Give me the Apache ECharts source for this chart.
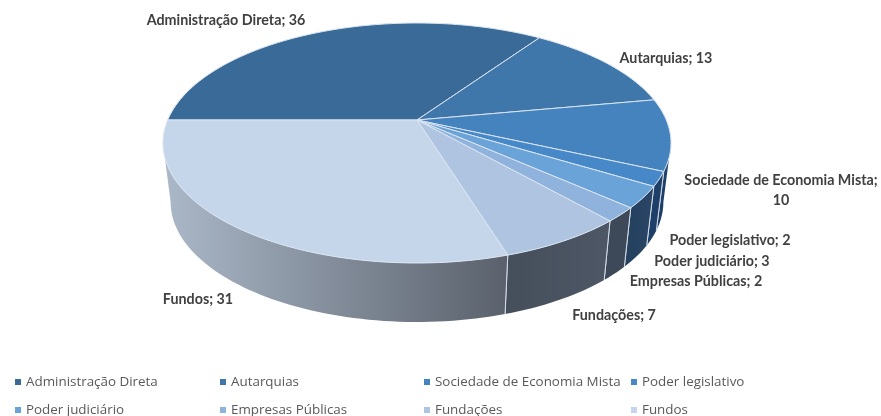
<!DOCTYPE html>
<html>
<head>
<meta charset="utf-8">
<style>
  html, body { margin: 0; padding: 0; background: #fff; }
  #chart { width: 881px; height: 416px; }
</style>
<script src="https://cdn.jsdelivr.net/npm/echarts@6/dist/echarts.min.js"></script>
</head>
<body>
<div id="chart"></div>
<script>
const categories = ['Administração Direta', 'Autarquias', 'Sociedade de Economia Mista', 'Poder legislativo',
  'Poder judiciário', 'Empresas Públicas', 'Fundações', 'Fundos']
const values = [36, 13, 10, 2, 3, 2, 7, 31]

const topColors = ['#3a6b98', '#4077ab', '#4483bd', '#4688c8', '#6aa3d8', '#8fb3dc', '#aec4e1', '#c5d6ea']
const sideColors = [null, null, ['#1c3b64', '#1f4470'], ['#1e4068', '#1e4068'],
  ['#24405f', '#2a4565'], ['#3d4959', '#3d4959'], ['#454f5c', '#4d5765'], ['#abb8c8', '#5a616c']]

// centre of each label
const labelPos = [[226, 20], [666, 58], [781, 190], [730, 240], [712, 261], [696, 281], [614, 315], [198, 299]]
const legendLeft = [15, 220, 424, 631]
const legendTop = [375, 403]

// the perspective of the disc
const cx = 417
const cy = 120
const rx = 249.3
const ry = 115.6
const persp = 0.1916
const depth = 59
const bottomScale = 0.97

// only this part of the rim faces the viewer
const frontStart = 0.5 + Math.asin(persp) / (Math.PI * 2)
const frontEnd = 1 - Math.asin(persp) / (Math.PI * 2)

const total = values.reduce((a, b) => a + b, 0)

function topPoint(frac) {
  const t = frac * Math.PI * 2
  const u = -Math.cos(t)
  const v = -Math.sin(t)
  const w = 1 - persp * v
  return [cx + rx * u / w, cy + ry * v / w]
}

function bottomPoint(frac) {
  const p = topPoint(frac)
  return [cx + (p[0] - cx) * bottomScale, p[1] + depth]
}

function arc(start, end, fn) {
  const pts = []
  const n = Math.max(4, Math.ceil((end - start) * 240))
  for (let i = 0; i <= n; i++) {
    pts.push(fn(start + (end - start) * i / n))
  }
  return pts
}

function sideItem(start, end, i) {
  const s = Math.max(start, frontStart)
  const e = Math.min(end, frontEnd)
  if (e <= s) {
    return null
  }
  const top = arc(s, e, topPoint)
  const bottom = arc(s, e, bottomPoint).reverse()
  const xs = top.map(p => p[0]).concat(bottom.map(p => p[0]))
  const fill = new echarts.graphic.LinearGradient(Math.min(...xs), 0, Math.max(...xs), 0, [
    { offset: 0, color: sideColors[i][0] },
    { offset: 1, color: sideColors[i][1] }
  ], true)
  const edge = f => ({
    type: 'line',
    shape: { x1: topPoint(f)[0], y1: topPoint(f)[1], x2: bottomPoint(f)[0], y2: bottomPoint(f)[1] },
    style: { stroke: '#d5dde8', lineWidth: 1 }
  })
  const children = [{ type: 'polygon', shape: { points: top.concat(bottom) }, style: { fill: fill } }]
  if (start >= frontStart) {
    children.push(edge(start))
  }
  if (end <= frontEnd) {
    children.push(edge(end))
  }
  return { type: 'group', children: children }
}

function topItem(start, end, i) {
  const text = i === 2
    ? categories[i] + ';\n' + values[i]
    : categories[i] + '; ' + values[i]
  return {
    type: 'group',
    children: [
      {
        type: 'polygon',
        shape: { points: [[cx, cy]].concat(arc(start, end, topPoint)) },
        style: { fill: topColors[i], stroke: '#dbe5f1', lineWidth: 1, lineJoin: 'round' }
      },
      {
        type: 'text',
        z2: 10,
        style: {
          text: text,
          x: labelPos[i][0],
          y: labelPos[i][1],
          align: 'center',
          verticalAlign: 'middle',
          fill: '#404040',
          font: 'bold 14.3px Lato',
          lineHeight: 20
        }
      }
    ]
  }
}

// cumulative share where each slice starts and ends
let acc = 0
const ranges = values.map(v => {
  const r = [acc / total, (acc + v) / total]
  acc += v
  return r
})

const series = [{
  name: 'lados',
  type: 'custom',
  coordinateSystem: 'none',
  silent: true,
  z: 1,
  data: ranges.map((r, i) => [r[0], r[1], i]),
  renderItem(params, api) {
    return sideItem(api.value(0), api.value(1), api.value(2))
  }
}]
categories.forEach((name, i) => {
  series.push({
    name: name,
    type: 'custom',
    coordinateSystem: 'none',
    z: 2,
    itemStyle: { color: topColors[i] },
    data: [[ranges[i][0], ranges[i][1], i]],
    renderItem(params, api) {
      return topItem(api.value(0), api.value(1), api.value(2))
    }
  })
})

// one legend per entry, the columns of the original are not evenly spaced
const legends = categories.map((name, i) => ({
  left: legendLeft[i % 4],
  top: legendTop[i < 4 ? 0 : 1],
  padding: 0,
  icon: 'rect',
  itemWidth: 6,
  itemHeight: 6,
  selectedMode: false,
  data: [name],
  textStyle: { color: '#595959', fontFamily: 'Open Sans', fontSize: 13.4, lineHeight: 14 }
}))

const chart = echarts.init(document.getElementById('chart'))
chart.setOption({
  animation: false,
  backgroundColor: '#fff',
  legend: legends,
  series: series
})
</script>
</body>
</html>
